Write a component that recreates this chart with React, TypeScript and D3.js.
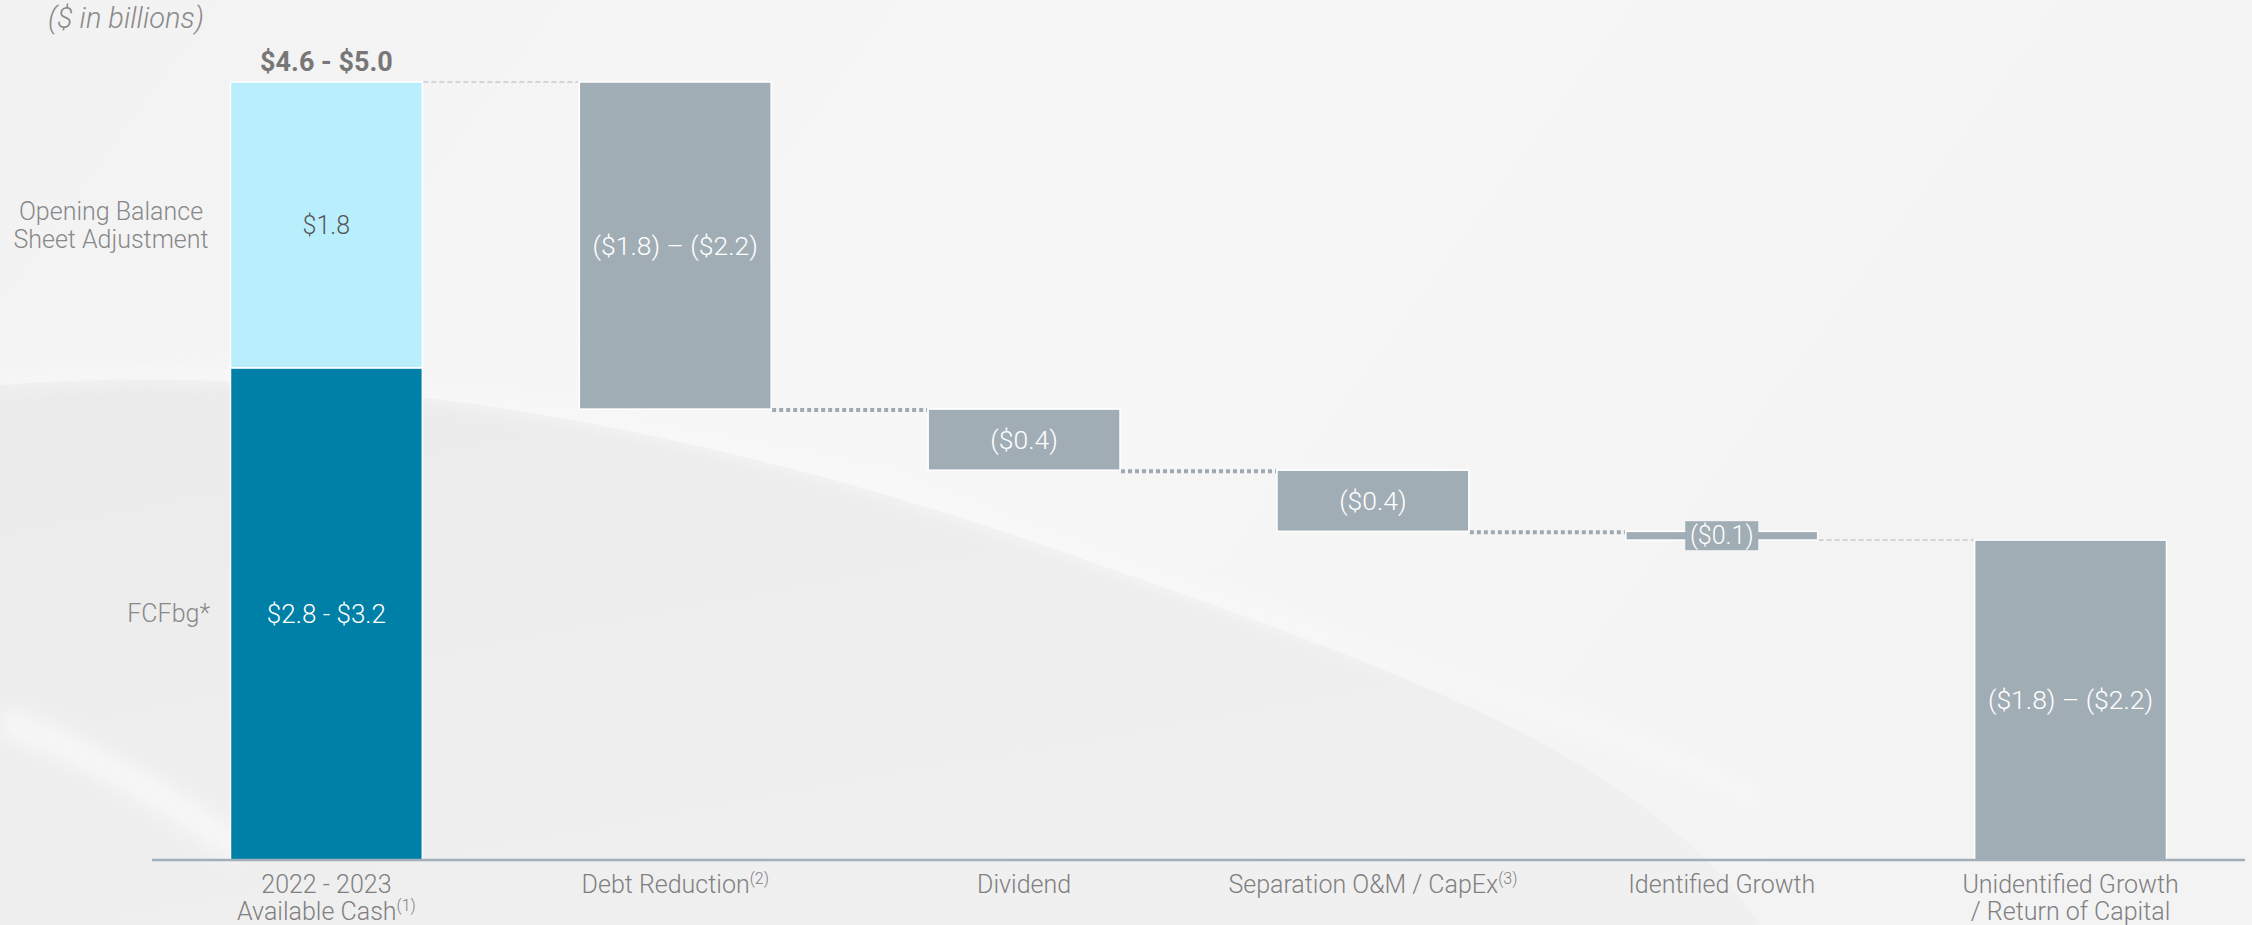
import React from "react";
import * as d3 from "d3";

// ---- data ----
const categoryLines: string[][] = [
  ["2022 - 2023", "Available Cash"],
  ["Debt Reduction"],
  ["Dividend"],
  ["Separation O&M / CapEx"],
  ["Identified Growth"],
  ["Unidentified Growth", "/ Return of Capital"],
];
const footnotes: string[] = ["(1)", "(2)", "", "(3)", "", ""];
const fcfbgValue = 3.1;
const openingAdjValue = 1.8;
const stepDeltas = [-2.06, -0.385, -0.385, -0.055];
const stepLabels = ["($1.8) – ($2.2)", "($0.4)", "($0.4)", "($0.1)"];
const finalLabel = "($1.8) – ($2.2)";
const totalLabel = "$4.6 - $5.0";
const openingAdjLabel = "$1.8";
const fcfbgLabel = "$2.8 - $3.2";
const sideLabels = { opening: ["Opening Balance", "Sheet Adjustment"], fcf: "FCFbg*" };
const unitNote = "($ in billions)";

const W = 2252;
const H = 925;
const FONT = "Roboto, 'Open Sans', sans-serif";

export default function App() {
  const x = d3
    .scaleBand<number>()
    .domain(d3.range(categoryLines.length))
    .range([152, 2245])
    .paddingInner(0.45)
    .paddingOuter(0.225);
  const total = fcfbgValue + openingAdjValue;
  const y = d3.scaleLinear().domain([0, 4.9]).range([860, 82]);

  const steps: { i: number; top: number; bottom: number; label: string }[] = [];
  let level = total;
  stepDeltas.forEach((d, k) => {
    const next = level + d;
    steps.push({ i: k + 1, top: level, bottom: next, label: stepLabels[k] });
    level = next;
  });
  const finalValue = level;
  const bw = x.bandwidth();
  const gray = "#a1adb5";

  const connectors: { x1: number; x2: number; v: number; thick: boolean }[] = [];
  connectors.push({ x1: x(0)! + bw, x2: x(1)!, v: total, thick: false });
  steps.forEach((s, k) => {
    if (k < steps.length - 1) {
      connectors.push({ x1: x(s.i)! + bw, x2: x(s.i + 1)!, v: s.bottom, thick: true });
    }
  });
  connectors.push({ x1: x(4)! + bw, x2: x(5)!, v: finalValue, thick: false });

  return (
    <svg
      width={W}
      height={H}
      style={{ position: "absolute", left: 0, top: 0, display: "block" }}
      fontFamily={FONT}
    >
      <defs>
        <linearGradient id="bg" x1="0" y1="0" x2="1" y2="0.3">
          <stop offset="0" stopColor="#f2f2f3" />
          <stop offset="0.5" stopColor="#f7f7f8" />
          <stop offset="1" stopColor="#f3f3f4" />
        </linearGradient>
        <linearGradient id="low" x1="0" y1="0" x2="0.6" y2="1">
          <stop offset="0" stopColor="#ebebec" />
          <stop offset="1" stopColor="#f0f0f1" />
        </linearGradient>
        <filter id="blur" x="-20%" y="-50%" width="140%" height="200%">
          <feGaussianBlur stdDeviation="10" />
        </filter>
        <filter id="blur2" x="-20%" y="-50%" width="140%" height="200%">
          <feGaussianBlur stdDeviation="8" />
        </filter>
      </defs>
      <rect x={0} y={0} width={W} height={H} fill="url(#bg)" />
      <path
        d="M0,385 C320,360 700,420 1100,565 C1400,670 1650,760 1760,925 L0,925 Z"
        fill="url(#low)"
      />
      <path
        d="M0,380 C320,355 700,415 1100,560 C1400,665 1620,728 1760,800"
        fill="none"
        stroke="#fafafb"
        strokeWidth={16}
        filter="url(#blur2)"
        opacity={0.6}
      />
      <path d="M0,720 C80,750 160,790 240,850" fill="none" stroke="#f9f9f9" strokeWidth={30} filter="url(#blur)" opacity={0.8} />

      {/* unit note */}
      <text x={48} y={28} fontSize={29} fontStyle="italic" fontWeight={300} fill="#8a8a8a">
        {unitNote}
      </text>

      {/* side labels */}
      {sideLabels.opening.map((t, k) => (
        <text key={t} x={111} y={220 + k * 28} fontSize={25} fontWeight={300} fill="#888" textAnchor="middle">
          {t}
        </text>
      ))}
      <text x={210} y={622} fontSize={25} fontWeight={300} fill="#888" textAnchor="end">
        {sideLabels.fcf}
      </text>

      {/* connectors */}
      {connectors.map((c, k) => (
        <line
          key={k}
          x1={c.x1 + 1}
          x2={c.x2 - 1}
          y1={y(c.v) + (c.thick ? 1 : 0)}
          y2={y(c.v) + (c.thick ? 1 : 0)}
          stroke={c.thick ? "#9ea9b1" : "#c3c9ce"}
          strokeWidth={c.thick ? 4 : 1.5}
          strokeDasharray={c.thick ? "4 3" : "5 3"}
        />
      ))}

      {/* first bar: stacked */}
      <rect x={x(0)!} y={y(fcfbgValue)} width={bw} height={y(0) - y(fcfbgValue)} fill="#0080a7" stroke="#fff" strokeWidth={1.5} />
      <rect x={x(0)!} y={y(total)} width={bw} height={y(fcfbgValue) - y(total)} fill="#b9effd" stroke="#fff" strokeWidth={1.5} />
      <text x={x(0)! + bw / 2} y={71} fontSize={27} fontWeight={700} fill="#777" textAnchor="middle">
        {totalLabel}
      </text>
      <text
        x={x(0)! + bw / 2}
        y={(y(total) + y(fcfbgValue)) / 2}
        dy="0.35em"
        fontSize={25}
        fontWeight={300}
        fill="#555"
        textAnchor="middle"
      >
        {openingAdjLabel}
      </text>
      <text
        x={x(0)! + bw / 2}
        y={(y(fcfbgValue) + y(0)) / 2}
        dy="0.35em"
        fontSize={26}
        fontWeight={300}
        fill="#fff"
        textAnchor="middle"
      >
        {fcfbgLabel}
      </text>

      {/* step bars */}
      {steps.map((s) => {
        const cx = x(s.i)! + bw / 2;
        const cy = (y(s.top) + y(s.bottom)) / 2;
        const h = y(s.bottom) - y(s.top);
        const small = h < 30;
        return (
          <g key={s.i}>
            <rect x={x(s.i)!} y={y(s.top)} width={bw} height={h} fill={gray} stroke="#fff" strokeWidth={1.5} />
            {small && <rect x={cx - 36.5} y={cy - 14.5} width={73} height={29} fill={gray} />}
            <text x={cx} y={cy} dy="0.35em" fontSize={small ? 25 : 26.5} fontWeight={300} fill="#fff" textAnchor="middle">
              {s.label}
            </text>
          </g>
        );
      })}

      {/* final bar */}
      <rect x={x(5)!} y={y(finalValue)} width={bw} height={y(0) - y(finalValue)} fill={gray} stroke="#fff" strokeWidth={1.5} />
      <text
        x={x(5)! + bw / 2}
        y={(y(finalValue) + y(0)) / 2}
        dy="0.35em"
        fontSize={26.5}
        fontWeight={300}
        fill="#fff"
        textAnchor="middle"
      >
        {finalLabel}
      </text>

      {/* axis line */}
      <line x1={152} x2={2245} y1={860} y2={860} stroke="#a3afb8" strokeWidth={2.5} />

      {/* category labels */}
      {categoryLines.map((lines, i) => (
        <g key={i}>
          {lines.map((t, k) => {
            const isLast = k === lines.length - 1;
            return (
              <text
                key={k}
                x={x(i)! + bw / 2}
                y={893 + k * 27}
                fontSize={25}
                fontWeight={300}
                fill="#808080"
                textAnchor="middle"
              >
                {t}
                {isLast && footnotes[i] ? (
                  <tspan fontSize={16} dy={-9}>
                    {footnotes[i]}
                  </tspan>
                ) : null}
              </text>
            );
          })}
        </g>
      ))}
    </svg>
  );
}
